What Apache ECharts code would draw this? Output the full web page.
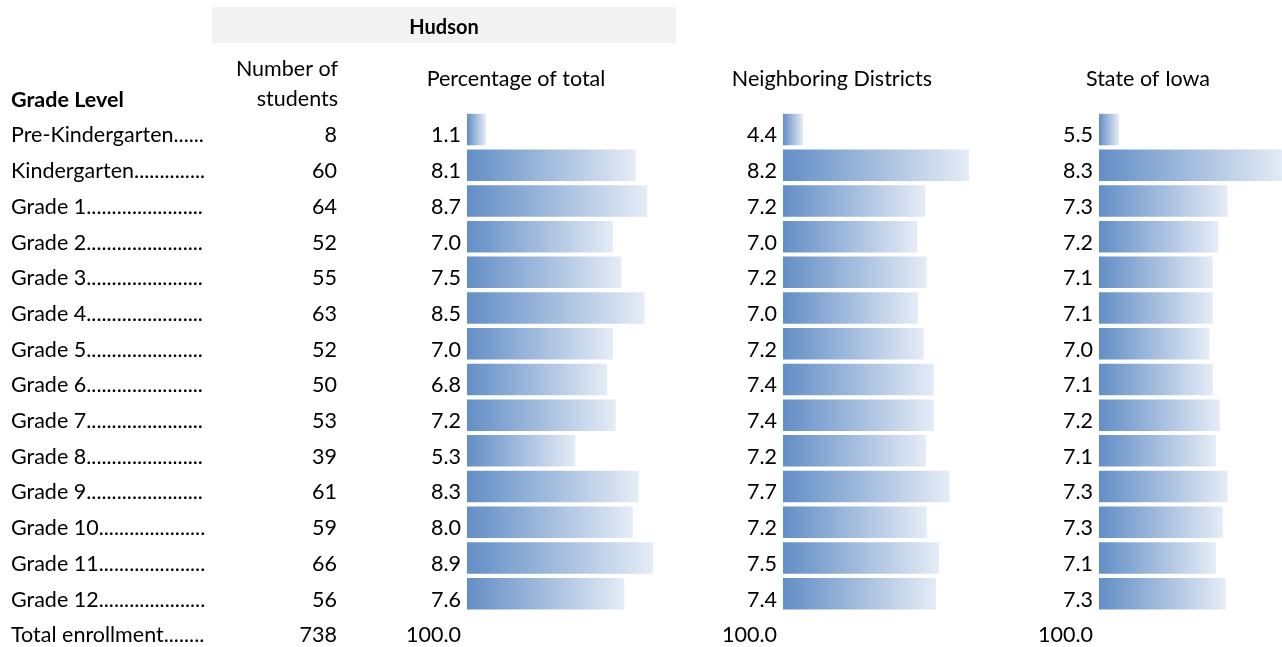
<!DOCTYPE html>
<html>
<head>
<meta charset="utf-8">
<script src="https://cdn.jsdelivr.net/npm/echarts@6/dist/echarts.min.js"></script>
<style>
html,body{margin:0;padding:0;background:#fff;}
#chart{width:1282px;height:647px;}
</style>
</head>
<body>
<div id="chart"></div>
<script>
// ---- data ----
var gradeLevels = ['Pre-Kindergarten', 'Kindergarten', 'Grade 1', 'Grade 2', 'Grade 3', 'Grade 4', 'Grade 5',
  'Grade 6', 'Grade 7', 'Grade 8', 'Grade 9', 'Grade 10', 'Grade 11', 'Grade 12', 'Total enrollment'];
var studentCounts = ['8', '60', '64', '52', '55', '63', '52', '50', '53', '39', '61', '59', '66', '56', '738'];
var hudsonPct = [1.08, 8.13, 8.67, 7.05, 7.45, 8.54, 7.05, 6.78, 7.18, 5.28, 8.27, 7.99, 8.94, 7.59, null];
var neighboringPct = [4.40, 8.18, 7.18, 7.00, 7.22, 7.02, 7.15, 7.38, 7.38, 7.20, 7.74, 7.22, 7.50, 7.43, null];
var iowaPct = [5.50, 8.30, 7.34, 7.18, 7.09, 7.09, 7.03, 7.09, 7.21, 7.14, 7.34, 7.26, 7.14, 7.31, null];
var totalPct = '100.0';
var columnTitles = ['Percentage of total', 'Neighboring Districts', 'State of Iowa'];

// ---- helpers ----
var FONT = 'Lato';
var FS = 21.5;
var measureCtx = document.createElement('canvas').getContext('2d');
measureCtx.font = FS + 'px ' + FONT;
function withLeaders(name, maxW) {
  var s = name;
  while (measureCtx.measureText(s + '.').width <= maxW) s += '.';
  return s;
}
function pctLabel(arr) {
  return function (v, i) { return arr[i] == null ? totalPct : arr[i].toFixed(1); };
}
var barColor = new echarts.graphic.LinearGradient(0, 0, 1, 0, [
  { offset: 0, color: '#638EC6' },
  { offset: 1, color: '#E5ECF6' }
]);

var GRID_TOP = 111.7, ROW_H = 35.7;
var gridH = ROW_H * gradeLevels.length;
var gridsDef = [
  { left: 467, min: 0.19, max: 9.597, data: hudsonPct },
  { left: 783, min: 3.944, max: 8.50, data: neighboringPct },
  { left: 1099, min: 5.161, max: 8.551, data: iowaPct }
];

var baseLabel = {
  color: '#000', fontFamily: FONT, fontSize: FS, verticalAlign: 'top', lineHeight: 12
};
function yAx(gi, extra, labelExtra) {
  return Object.assign({
    type: 'category', gridIndex: gi, data: gradeLevels, inverse: true, position: 'left',
    axisLine: { show: false }, axisTick: { show: false }, splitLine: { show: false },
    axisLabel: Object.assign({}, baseLabel, labelExtra)
  }, extra);
}

var grids = [], xAxes = [], yAxes = [], series = [];
gridsDef.forEach(function (g, i) {
  grids.push({ left: g.left, top: GRID_TOP, width: 200, height: gridH, containLabel: false, outerBoundsMode: 'none' });
  xAxes.push({ type: 'value', gridIndex: i, min: g.min, max: g.max, show: false });
  yAxes.push(yAx(i, {}, { margin: 6, formatter: pctLabel(g.data) }));
  series.push({
    type: 'bar', xAxisIndex: i, yAxisIndex: i, data: g.data, barWidth: 31.5, clip: true,
    itemStyle: { color: barColor }, silent: true
  });
});
// number of students column and grade labels on grid 0
yAxes.push(yAx(0, { offset: 124 }, { margin: 6, formatter: function (v, i) { return studentCounts[i]; } }));
yAxes.push(yAx(0, { offset: 0 }, { margin: 456, align: 'left', formatter: function (v) { return withLeaders(v, 196); } }));

var graphics = [
  { type: 'rect', shape: { x: 212, y: 7, width: 464, height: 36 }, style: { fill: '#F2F2F2' }, silent: true },
  { type: 'text', x: 444, y: 28, style: { text: 'Hudson', font: 'bold 20px ' + FONT, fill: '#000', align: 'center', verticalAlign: 'middle' } },
  { type: 'text', x: 338, y: 69, style: { text: 'Number of', font: FS + 'px ' + FONT, fill: '#000', align: 'right', verticalAlign: 'middle' } },
  { type: 'text', x: 338, y: 99, style: { text: 'students', font: FS + 'px ' + FONT, fill: '#000', align: 'right', verticalAlign: 'middle' } },
  { type: 'text', x: 11, y: 100, style: { text: 'Grade Level', font: 'bold ' + FS + 'px ' + FONT, fill: '#000', align: 'left', verticalAlign: 'middle' } }
];
var titleX = [516, 832, 1148];
columnTitles.forEach(function (t, i) {
  graphics.push({ type: 'text', x: titleX[i], y: 79, style: { text: t, font: FS + 'px ' + FONT, fill: '#000', align: 'center', verticalAlign: 'middle' } });
});

var chart = echarts.init(document.getElementById('chart'), null, { renderer: 'canvas' });
chart.setOption({
  animation: false,
  backgroundColor: '#fff',
  grid: grids, xAxis: xAxes, yAxis: yAxes, series: series,
  graphic: graphics
});
</script>
</body>
</html>
